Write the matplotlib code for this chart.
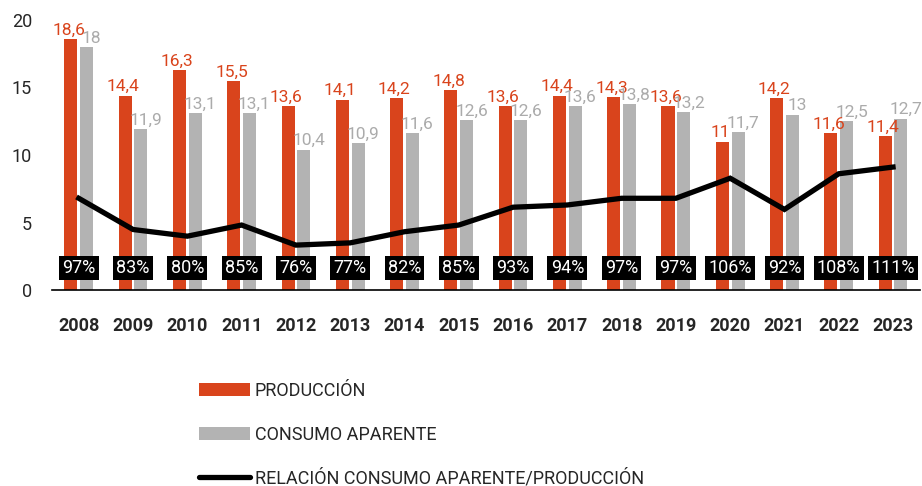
import numpy as np
import matplotlib.pyplot as plt
from matplotlib.patches import Patch
from matplotlib.lines import Line2D

plt.rcParams['font.family'] = ['Roboto', 'DejaVu Sans']

years = ['2008', '2009', '2010', '2011', '2012', '2013', '2014', '2015',
         '2016', '2017', '2018', '2019', '2020', '2021', '2022', '2023']
produccion = [18.6, 14.4, 16.3, 15.5, 13.6, 14.1, 14.2, 14.8,
              13.6, 14.4, 14.3, 13.6, 11.0, 14.2, 11.6, 11.4]
consumo = [18.0, 11.9, 13.1, 13.1, 10.4, 10.9, 11.6, 12.6,
           12.6, 13.6, 13.8, 13.2, 11.7, 13.0, 12.5, 12.7]
relacion = [97, 83, 80, 85, 76, 77, 82, 85, 93, 94, 97, 97, 106, 92, 108, 111]

ORANGE = '#D9441C'
GRAY = '#B3B3B3'
GRAY_TXT = '#ABABAB'
DARK = '#262626'


def fmt(v):
    s = ('%.1f' % v).rstrip('0').rstrip('.')
    return s.replace('.', ',')


fig = plt.figure(figsize=(9.22, 4.86), dpi=100)
ax = fig.add_axes([0.056, 0.403, 0.942, 0.556])
x = np.arange(len(years))
w = 0.24
off = 0.145

ax.bar(x - off, produccion, w, color=ORANGE, zorder=2)
ax.bar(x + off, consumo, w, color=GRAY, zorder=2)

for i in range(len(years)):
    ax.text(x[i] - off - 0.04, produccion[i] + 0.1, fmt(produccion[i]), ha='center', va='bottom',
            color=ORANGE, fontsize=12.5)
    # grey labels nudged right so they don't run into the orange ones
    ax.text(x[i] + off + 0.09, consumo[i] + 0.1, fmt(consumo[i]), ha='center', va='bottom',
            color=GRAY_TXT, fontsize=12.5)
    ax.text(x[i], 1.63, '%d%%' % relacion[i], ha='center', va='center', color='white',
            fontsize=13, zorder=6,
            bbox=dict(boxstyle='square,pad=0.18', facecolor='black', edgecolor='none'))

ax.set_xlim(-0.5, 15.5)
ax.set_ylim(0, 20)
ax.set_yticks([0, 5, 10, 15, 20])
ax.set_xticks(x)
ax.set_xticklabels(years, fontweight='bold', fontsize=13, color=DARK)
ax.tick_params(axis='y', length=0, labelsize=13, labelcolor=DARK, pad=14)
ax.tick_params(axis='x', length=0, pad=19)
for s in ['top', 'right', 'left']:
    ax.spines[s].set_visible(False)
ax.spines['bottom'].set_color('black')
ax.spines['bottom'].set_linewidth(1.2)

# ratio line on hidden secondary axis
ax2 = ax.twinx()
ax2.plot(x, relacion, color='black', linewidth=3.8, solid_joinstyle='miter', zorder=5)
ax2.set_ylim(55.8, 177)
ax2.set_xlim(-0.5, 15.5)
ax2.axis('off')

handles = [Patch(facecolor=ORANGE), Patch(facecolor=GRAY),
           Line2D([], [], color='black', linewidth=3.8, solid_capstyle='round')]
labels = ['PRODUCCIÓN', 'CONSUMO APARENTE', 'RELACIÓN CONSUMO APARENTE/PRODUCCIÓN']
leg = fig.legend(handles, labels, loc='upper left', bbox_to_anchor=(0.208, 0.229),
                 frameon=False, fontsize=13, handlelength=2.8, handleheight=0.7,
                 labelspacing=1.42, handletextpad=0.3, borderaxespad=0)
for t in leg.get_texts():
    t.set_color(DARK)

fig.savefig('out.png', dpi=100)
